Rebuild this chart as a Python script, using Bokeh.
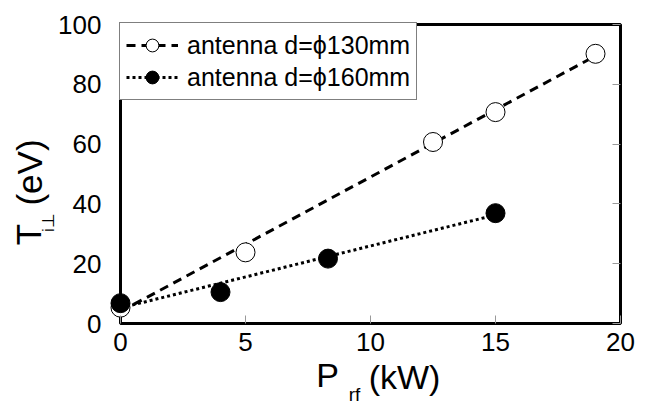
import math
from bokeh.plotting import figure
from bokeh.models import (Range1d, FixedTicker, LinearAxis, Legend, LegendItem, Label)
from bokeh.embed import file_html
from bokeh.resources import INLINE

# ---- data ----
p130_x = [0, 5, 12.5, 15, 19]
t130_y = [5.3, 23.8, 60.7, 70.7, 90.2]
p160_x = [0, 4, 8.3, 15]
t160_y = [6.8, 10.5, 21.7, 36.9]
fit130_x = [0, 19]
fit130_y = [4.0, 89.5]
fit160_x = [0, 15]
fit160_y = [5.2, 36.3]
x_ticks = [0, 5, 10, 15, 20]
y_ticks = [0, 20, 40, 60, 80, 100]
legend_labels = ["antenna d=\u03d5130mm", "antenna d=\u03d5160mm"]

FONT = "Liberation Sans"
W, H = 650, 407
# plot box placement in pixels (layout only)
BOX_L, BOX_R, BOX_T, BOX_B = 120, 620, 24, 323
sx = (BOX_R - BOX_L) / (x_ticks[-1] - x_ticks[0])
sy = (BOX_B - BOX_T) / (y_ticks[-1] - y_ticks[0])


def xd(px):
    return x_ticks[0] + (px - BOX_L) / sx


def yd(py):
    return y_ticks[0] + (BOX_B - py) / sy


p = figure(width=W, height=H,
           x_range=Range1d(xd(0), xd(W)), y_range=Range1d(yd(H), yd(0)),
           output_backend="svg", toolbar_location=None, title=None,
           min_border_left=0, min_border_right=0,
           min_border_top=0, min_border_bottom=0)
p.xgrid.visible = False
p.ygrid.visible = False
p.outline_line_color = None
p.background_fill_color = "white"
p.border_fill_color = "white"

# axes placed on the box edges
xa = p.xaxis[0]
xa.fixed_location = y_ticks[0]
xa.ticker = FixedTicker(ticks=x_ticks)
xa.axis_line_color = None
xa.major_tick_in = 8
xa.major_tick_out = 0
xa.major_tick_line_color = "#999999"
xa.minor_tick_line_color = None
xa.major_label_text_font = FONT
xa.major_label_text_font_size = "26px"
xa.major_label_text_color = "black"
xa.major_label_standoff = 9

ya = p.yaxis[0]
ya.fixed_location = x_ticks[0]
ya.ticker = FixedTicker(ticks=y_ticks)
ya.axis_line_color = None
ya.major_tick_line_color = None
ya.minor_tick_line_color = None
ya.major_label_text_font = FONT
ya.major_label_text_font_size = "26px"
ya.major_label_text_color = "black"
ya.major_label_standoff = 13

ra = LinearAxis(ticker=FixedTicker(ticks=y_ticks), fixed_location=x_ticks[-1])
ra.axis_line_color = None
ra.major_tick_in = 8
ra.major_tick_out = 0
ra.major_tick_line_color = "#999999"
ra.minor_tick_line_color = None
ra.major_label_text_color = None
ra.major_label_text_font_size = "1px"
p.add_layout(ra, "right")

# plot box
p.quad(left=[x_ticks[0]], right=[x_ticks[-1]], bottom=[y_ticks[0]], top=[y_ticks[-1]],
       fill_color=None, line_color="black", line_width=3)

# fit lines
l1 = p.line(fit130_x, fit130_y, line_color="black", line_width=3, line_dash="9 6")
l2 = p.line(fit160_x, fit160_y, line_color="black", line_width=3, line_dash="3 3")

# points
c1 = p.scatter(p130_x, t130_y, marker="circle", size=19,
               fill_color="white", line_color="black", line_width=1)
c2 = p.scatter(p160_x, t160_y, marker="circle", size=19,
               fill_color="black", line_color="black", line_width=1)

LEG_H = 76
legend = Legend(items=[LegendItem(label=legend_labels[0], renderers=[l1, c1]),
                       LegendItem(label=legend_labels[1], renderers=[l2, c2])],
                location=(BOX_L - 1, H - BOX_T - LEG_H))
legend.margin = 0
legend.padding = 6
legend.spacing = 0
legend.glyph_width = 52
legend.glyph_height = 32
legend.label_height = 32
legend.label_standoff = 9
legend.label_text_font = FONT
legend.label_text_font_size = "25px"
legend.label_text_color = "black"
legend.border_line_color = "black"
legend.border_line_width = 1
legend.background_fill_color = "white"
legend.background_fill_alpha = 1.0
p.add_layout(legend, "center")


# axis titles (with subscripts) as centred labels
def lab(px, py, text, size, angle=0.0):
    p.add_layout(Label(x=xd(px), y=yd(py), text=text,
                       text_font=FONT, text_font_size=size, text_color="black",
                       angle=angle, text_align="center", text_baseline="middle"))


lab(327, 374, "P", "34px")
lab(354, 394, "rf", "19px")
lab(404, 376, "(kW)", "34px")
lab(28, 234, "T", "35px", math.pi / 2)
lab(48, 222, "i\u22a5", "17px", math.pi / 2)
lab(29, 172, "(eV)", "35px", math.pi / 2)

open("out.html", "w").write(file_html(p, INLINE))
